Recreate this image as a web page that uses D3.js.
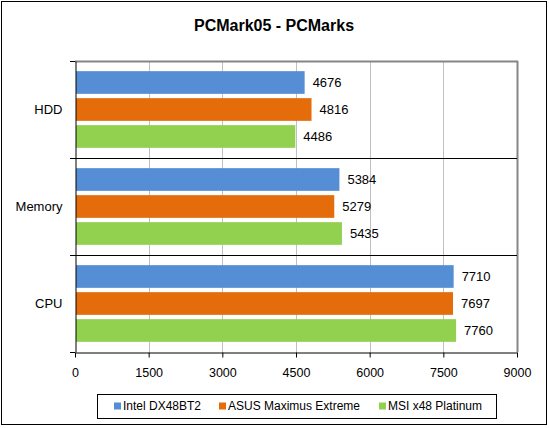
<!DOCTYPE html>
<html lang="en">
<head>
    <meta charset="UTF-8"/>
    <title>PCMark05 - PCMarks</title>
    <script src="https://d3js.org/d3.v7.min.js"></script>
    <style>
        body { margin: 0; background: #fff; }
        text { font-family: "Liberation Sans", Arial, sans-serif; }
    </style>
</head>
<body>
<script>
    var categories = ["HDD", "Memory", "CPU"];
    var series = ["Intel DX48BT2", "ASUS Maximus Extreme", "MSI x48 Platinum"];
    var colors = ["#558ed5", "#e46c0a", "#92d050"];
    var values = [
        [4676, 5384, 7710],   // Intel DX48BT2
        [4816, 5279, 7697],   // ASUS Maximus Extreme
        [4486, 5435, 7760]    // MSI x48 Platinum
    ];
    var ticks = [0, 1500, 3000, 4500, 6000, 7500, 9000];

    var w = 549, h = 428;
    var plotLeft = 75, plotRight = 517, plotTop = 61, plotBottom = 352;

    var svg = d3.select("body").append("svg")
        .attr("width", w)
        .attr("height", h);

    // outer frame
    svg.append("rect")
        .attr("x", 1.5).attr("y", 1.5)
        .attr("width", 545).attr("height", 423)
        .attr("fill", "#fff").attr("stroke", "#000").attr("stroke-width", 1);

    svg.append("text")
        .attr("x", 274).attr("y", 31)
        .attr("text-anchor", "middle")
        .attr("font-size", "16px").attr("font-weight", "bold")
        .text("PCMark05 - PCMarks");

    var x = d3.scaleLinear().domain([0, 9000]).range([plotLeft, plotRight]);
    var y = d3.scaleBand().domain(categories).range([plotTop, plotBottom]);
    var ySub = d3.scaleBand().domain(d3.range(series.length))
        .range([0, y.bandwidth()])
        .paddingInner(0.16)
        .paddingOuter(0.376);

    // grid lines
    svg.append("g").selectAll("line")
        .data(ticks.slice(1))
        .enter().append("line")
        .attr("x1", d => Math.round(x(d)) + 0.5)
        .attr("x2", d => Math.round(x(d)) + 0.5)
        .attr("y1", plotTop).attr("y2", plotBottom)
        .attr("stroke", d => d === 9000 ? "#868686" : "#c0c0c0")
        .attr("stroke-width", d => d === 9000 ? 2 : 1);

    // top border
    svg.append("line")
        .attr("x1", plotLeft).attr("x2", plotRight + 1)
        .attr("y1", plotTop + 0.5).attr("y2", plotTop + 0.5)
        .attr("stroke", "#868686").attr("stroke-width", 2);

    // bars
    var groups = svg.append("g").selectAll("g")
        .data(series)
        .enter().append("g")
        .attr("fill", (d, i) => colors[i]);

    groups.each(function (s, si) {
        var g = d3.select(this);
        g.selectAll("rect")
            .data(values[si])
            .enter().append("rect")
            .attr("x", x(0) + 1)
            .attr("y", (d, ci) => y(categories[ci]) + ySub(si))
            .attr("width", d => x(d) - x(0) - 1)
            .attr("height", ySub.bandwidth());

        g.selectAll("text")
            .data(values[si])
            .enter().append("text")
            .attr("x", d => x(d) + 8)
            .attr("y", (d, ci) => y(categories[ci]) + ySub(si) + ySub.bandwidth() / 2)
            .attr("dy", "0.35em")
            .attr("font-size", "13px")
            .attr("fill", "#000")
            .text(d => d);
    });

    // category separators
    svg.append("g").selectAll("line")
        .data(categories.slice(1))
        .enter().append("line")
        .attr("x1", plotLeft - 5).attr("x2", plotRight)
        .attr("y1", d => Math.round(y(d)) + 0.5)
        .attr("y2", d => Math.round(y(d)) + 0.5)
        .attr("stroke", "#000");

    // top tick on y axis
    svg.append("line")
        .attr("x1", plotLeft - 5).attr("x2", plotLeft)
        .attr("y1", plotTop + 0.5).attr("y2", plotTop + 0.5)
        .attr("stroke", "#000");

    // y axis
    var yAxis = svg.append("g")
        .attr("transform", "translate(" + (plotLeft + 0.5) + ",0)")
        .call(d3.axisLeft(y).tickSize(0).tickPadding(13));
    yAxis.select(".domain").attr("stroke", "#000");
    yAxis.selectAll("text")
        .attr("font-size", "13px")
        .attr("font-family", "'Liberation Sans', Arial, sans-serif")
        .attr("fill", "#000");

    // x axis
    var xAxis = svg.append("g")
        .attr("transform", "translate(0," + (plotBottom + 0.5) + ")")
        .call(d3.axisBottom(x).tickValues(ticks).tickSize(5).tickSizeOuter(0).tickPadding(11)
            .tickFormat(d3.format("d")));
    xAxis.select(".domain").attr("stroke", "#000");
    xAxis.selectAll("line").attr("stroke", "#000");
    xAxis.selectAll("text")
        .attr("font-size", "12.5px")
        .attr("font-family", "'Liberation Sans', Arial, sans-serif")
        .attr("fill", "#000");

    // bottom-left tick continuing the y axis
    svg.append("line")
        .attr("x1", plotLeft - 5).attr("x2", plotLeft)
        .attr("y1", plotBottom + 0.5).attr("y2", plotBottom + 0.5)
        .attr("stroke", "#000");

    // legend
    var legend = svg.append("g");
    legend.append("rect")
        .attr("x", 97.5).attr("y", 394.5)
        .attr("width", 399).attr("height", 24)
        .attr("fill", "#fff").attr("stroke", "#000");

    var legendX = [114, 219, 379];
    var items = legend.selectAll("g.item")
        .data(series)
        .enter().append("g")
        .attr("class", "item")
        .attr("transform", (d, i) => "translate(" + legendX[i] + ",406)");
    items.append("rect")
        .attr("x", 0).attr("y", -3.5)
        .attr("width", 7).attr("height", 7)
        .attr("fill", (d, i) => colors[i]);
    items.append("text")
        .attr("x", 9).attr("y", 0)
        .attr("dy", "0.35em")
        .attr("font-size", "12px")
        .text(d => d);
</script>
</body>
</html>
